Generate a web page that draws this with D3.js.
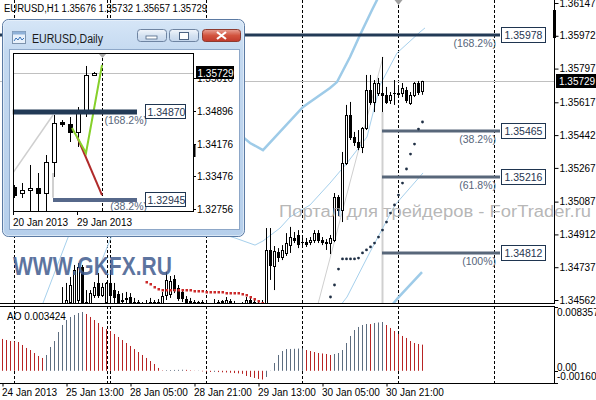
<!DOCTYPE html>
<html><head><meta charset="utf-8">
<script src="https://cdn.jsdelivr.net/npm/d3@7"></script>
<style>
body{margin:0;background:#fff}
svg{display:block}
text{font-family:"Liberation Sans",Arial,sans-serif}
</style></head>
<body><svg id="c" width="596" height="400"></svg>
<script>
// ---------------- DATA (EURUSD H1) ----------------
const openH1 = [1.3362,1.3366,1.3364,1.3360,1.3369,1.3375,1.3372,1.3370,1.3380,1.3389,1.3394,1.3390,1.3408,1.3420,1.3432,1.3440,
1.34535,1.34551,1.34546,1.34562,1.34738,1.34551,1.34546,1.34589,1.34653,1.34589,1.34551,1.34653,1.34615,1.34594,1.34562,1.34567,1.34578,1.34551,1.34551,1.34535,1.34530,1.34551,1.34546,1.34551,1.34535,1.34589,1.34594,1.34674,1.34626,1.34605,1.34567,1.34557,1.34551,1.34546,1.34551,1.34535,1.34530,1.34541,1.34546,1.34551,1.34546,1.34557,1.34546,1.34535,1.34530,1.34541,1.34562,1.34551,1.34541,1.34541,
1.34509,1.34829,1.34743,1.34818,1.34791,1.34813,1.34855,1.34893,1.34909,1.34871,1.34871,1.34871,1.34882,1.34919,1.34882,1.34871,1.34866,1.34882,1.35112,1.35042,1.35293,1.35549,1.35432,1.35405,1.35378,1.35480,1.35683,1.35619,1.35667,1.35667,1.35656,1.35629,1.35667,1.35667,1.35667,1.35683,1.35613,1.35656,1.35720,1.35676];
const highH1 = [1.3370,1.3372,1.3368,1.3371,1.3378,1.3380,1.3376,1.3382,1.3392,1.3398,1.3402,1.3412,1.3425,1.3436,1.3446,1.34631,
1.34653,1.34685,1.34749,1.34759,1.34749,1.34615,1.34615,1.34658,1.34706,1.34653,1.34658,1.34706,1.34653,1.34610,1.34599,1.34605,1.34599,1.34573,1.34562,1.34551,1.34562,1.34573,1.34562,1.34567,1.34605,1.34711,1.34690,1.34695,1.34642,1.34615,1.34583,1.34573,1.34562,1.34557,1.34562,1.34551,1.34546,1.34567,1.34562,1.34562,1.34578,1.34567,1.34557,1.34546,1.34551,1.34578,1.34578,1.34562,1.34557,1.34562,
1.34946,1.34946,1.34850,1.34839,1.34855,1.34919,1.34952,1.34925,1.34935,1.34893,1.34893,1.34898,1.34935,1.34935,1.34898,1.34887,1.34909,1.35133,1.35122,1.35352,1.35603,1.35619,1.35459,1.35469,1.35485,1.35763,1.35763,1.35736,1.35747,1.35859,1.35699,1.35672,1.35736,1.35693,1.35720,1.35699,1.35672,1.35725,1.35731,1.35732];
const lowH1 = [1.3355,1.3360,1.3356,1.3358,1.3365,1.3368,1.3364,1.3367,1.3376,1.3384,1.3386,1.3388,1.3402,1.3415,1.3426,1.3435,
1.34482,1.34530,1.34509,1.34541,1.34530,1.34498,1.34530,1.34573,1.34573,1.34578,1.34541,1.34562,1.34546,1.34530,1.34530,1.34541,1.34535,1.34525,1.34519,1.34509,1.34514,1.34530,1.34525,1.34514,1.34519,1.34562,1.34573,1.34599,1.34557,1.34551,1.34535,1.34530,1.34525,1.34530,1.34519,1.34509,1.34509,1.34525,1.34530,1.34535,1.34535,1.34535,1.34519,1.34509,1.34514,1.34530,1.34535,1.34519,1.34525,1.34519,
1.34498,1.34669,1.34615,1.34765,1.34775,1.34797,1.34813,1.34866,1.34839,1.34850,1.34845,1.34855,1.34866,1.34866,1.34855,1.34829,1.34807,1.34871,1.35010,1.34978,1.35282,1.35416,1.35384,1.35362,1.35346,1.35469,1.35603,1.35565,1.35651,1.35565,1.35608,1.35608,1.35603,1.35651,1.35645,1.35613,1.35603,1.35645,1.35656,1.35657];
const closeH1 = [1.3366,1.3364,1.3360,1.3369,1.3375,1.3372,1.3370,1.3380,1.3389,1.3394,1.3390,1.3408,1.3420,1.3432,1.3440,1.34535,
1.34562,1.34642,1.34722,1.34738,1.34546,1.34530,1.34599,1.34631,1.34589,1.34631,1.34653,1.34589,1.34578,1.34551,1.34557,1.34573,1.34551,1.34546,1.34541,1.34530,1.34546,1.34549,1.34551,1.34535,1.34583,1.34669,1.34663,1.34615,1.34573,1.34573,1.34551,1.34551,1.34546,1.34551,1.34541,1.34530,1.34541,1.34546,1.34551,1.34557,1.34562,1.34551,1.34535,1.34530,1.34535,1.34562,1.34551,1.34541,1.34546,1.34546,
1.34829,1.34749,1.34823,1.34791,1.34829,1.34866,1.34898,1.34882,1.34861,1.34869,1.34861,1.34882,1.34919,1.34882,1.34871,1.34866,1.34893,1.35112,1.35042,1.35293,1.35549,1.35432,1.35405,1.35378,1.35480,1.35683,1.35619,1.35720,1.35720,1.35656,1.35619,1.35656,1.35665,1.35664,1.35693,1.35629,1.35656,1.35720,1.35672,1.35729];

// Awesome Oscillator values (one per bar)
const aoValues = [0.00417,0.00403,0.00390,0.00384,0.00377,0.00338,0.00299,0.00272,0.00233,0.00194,0.00168,0.00207,0.00312,0.00390,0.00508,0.00600,
0.00665,0.00705,0.00731,0.00757,0.00770,0.00744,0.00705,0.00665,0.00626,0.00574,0.00548,0.00521,0.00482,0.00443,0.00403,0.00364,0.00325,0.00285,0.00246,0.00207,0.00168,0.00128,0.00089,0.00037,
0.00005,0.00008,0.00010,0.00011,0.00012,0.00014,0.00012,0.00006,0.00002,0.00003,-0.00008,-0.00012,-0.00015,-0.00014,-0.00017,-0.00020,-0.00022,-0.00026,-0.00030,-0.00034,-0.00040,-0.00068,-0.00081,-0.00094,-0.00107,-0.00114,
-0.00081,-0.00003,0.00102,0.00207,0.00259,0.00285,0.00286,0.00288,0.00291,0.00292,0.00272,0.00259,0.00246,0.00233,0.00227,0.00220,0.00207,0.00220,0.00233,0.00272,0.00364,0.00456,0.00534,0.00574,0.00600,0.00613,0.00612,0.00626,0.00633,0.00639,
0.00600,0.00561,0.00521,0.00482,0.00456,0.00430,0.00390,0.00364,0.00351,0.003424];

// Parabolic SAR points [bar, price]
const sarDown = [[36,1.34658],[37,1.34647],[38,1.34631],[39,1.34621],[40,1.34615],[41,1.34615],[42,1.34615],[43,1.34615],[44,1.34615],[45,1.34615],[46,1.34613],[47,1.34613],[48,1.34610],[49,1.34610],[50,1.34610],[51,1.34607],[52,1.34607],[53,1.34605],[54,1.34605],[55,1.34605],[56,1.34602],[57,1.34599],[58,1.34599],[59,1.34597],[60,1.34594],[61,1.34589],[62,1.34578],[63,1.34567],[64,1.34557],[65,1.34546]];
const sarUp = [[82,1.34578],[83,1.34642],[84,1.34727],[85,1.34781],[86,1.34781],[87,1.34781],[88,1.34781],[89,1.34786],[90,1.34813],[91,1.34829],[92,1.34845],[93,1.34866],[94,1.34898],[95,1.34935],[96,1.34978],[97,1.35026],[98,1.35069],[99,1.35122],[100,1.35186],[101,1.35261],[102,1.35341],[103,1.35394],[104,1.35474],[105,1.35512]];

// Band / envelope lines [bar, price]
const envUpper = [[60.5,1.35427],[62,1.35400],[65.25,1.35362],[75.25,1.35592],[82,1.35693],[83.75,1.35725],[87,1.35859],[89.5,1.35976],[92.5,1.36110],[95,1.36216]];
const envLower = [[96.5,1.34509],[99,1.34573],[105,1.34711]];
const bandA = [[10.25,1.34546],[16.25,1.34882],[18.25,1.34989]];
const bandB = [[23.5,1.34695],[27,1.34882],[28.25,1.34946]];
const bbUpper = [[56.5,1.34904],[58.25,1.34893],[63.25,1.34855],[65.25,1.34877],[69.5,1.34946],[72,1.35005],[77,1.35069],[82,1.35186],[86.25,1.35293],[91.25,1.35432],[94.5,1.35709],[98.75,1.35880],[104.5,1.35992],[105.75,1.36014]];
const bbLower = [[84.5,1.34530],[86.25,1.34578],[92,1.34818],[98.25,1.35069],[105.25,1.35240]];
const fibTrend = [[79,1.34541],[95.25,1.35859]];

// Fibonacci levels
const fibPrices = [1.35978,1.35465,1.35216,1.34812];
const fibNames = ["(168.2%)","(38.2%)","(61.8%)","(100%)"];
const fibStart = [-1,95,95,95];
const fibEnd = 124.5;

// axes
const priceTicks = [1.36147,1.35972,1.35797,1.35617,1.35442,1.35267,1.35087,1.34912,1.34737,1.34562];
const dateLabels = ["24 Jan 2013","25 Jan 13:00","28 Jan 05:00","28 Jan 21:00","29 Jan 13:00","30 Jan 05:00","30 Jan 21:00"];
const dateBars = [0,16,32,48,64,80,96];
const separatorBars = [3,26.25,27,51,75,99,123];
const lastPrice = 1.35729;
const aoTickLabels = ["0.008357","0.00","-0.00160"];
const aoTickValues = [0.008357,0,-0.0016];

// Daily inset data
const openD  = [1.33236,1.33105,1.33171,1.33214,1.33105,1.33782,1.34656,1.34612,1.34437,1.34874,1.35676];
const highD  = [1.33280,1.33324,1.33717,1.33542,1.33935,1.34809,1.34699,1.34765,1.34983,1.35879,1.35748];
const lowD   = [1.32996,1.32996,1.32515,1.32668,1.32668,1.33455,1.34547,1.34219,1.34110,1.34765,1.35660];
const closeD = [1.33061,1.33171,1.33214,1.33105,1.33782,1.34634,1.34612,1.34437,1.34874,1.35682,1.35729];
const dTicks = [1.35616,1.34896,1.34176,1.33476,1.32756];
const dDates = ["20 Jan 2013","29 Jan 2013"];
const dDateBars = [0,8];
const dFibPrices = [1.34870,1.32945];
const dFibNames = ["(168.2%)","(38.2%)"];
const dFibStart = [-0.15,4.875];
const dGreen = [[7.25,1.34525],[9,1.33979],[11,1.35901]];
const dRed = [[7.9,1.34328],[11,1.33061]];
const dGreyDiag = [[-0.15,1.33542],[4.875,1.34809]];

// ---------------- DRAW ----------------
const svg = d3.select("#c");
svg.append("rect").attr("width",596).attr("height",400).attr("fill","#fff");
const defs = svg.append("defs");
defs.append("clipPath").attr("id","cm").append("rect").attr("x",0).attr("y",0).attr("width",554).attr("height",304);
defs.append("clipPath").attr("id","ca").append("rect").attr("x",0).attr("y",306).attr("width",554).attr("height",77);
defs.append("clipPath").attr("id","ci").append("rect").attr("x",13.5).attr("y",53.5).attr("width",180).attr("height",158);

const x = d3.scaleLinear().domain([0,105]).range([2,422]);
const y = d3.scaleLinear().domain([1.34562,1.36147]).range([300,3]);
const yAO = d3.scaleLinear().domain([-0.0016,0.008357]).range([383,307]);

const main = svg.append("g").attr("clip-path","url(#cm)");
const aoG = svg.append("g").attr("clip-path","url(#ca)");

// separators
separatorBars.forEach(b=>{
  const px = Math.round(x(b))+0.5;
  main.append("line").attr("x1",px).attr("x2",px).attr("y1",0).attr("y2",304).attr("stroke","#000").attr("stroke-dasharray","3,2");
  aoG.append("line").attr("x1",px).attr("x2",px).attr("y1",306).attr("y2",384).attr("stroke","#000").attr("stroke-dasharray","3,2");
});
// shift marker
const sx = Math.round(x(99))+0.5;
main.append("path").attr("d",`M${sx-4},0L${sx+4},0L${sx},5Z`).attr("fill","#a0a0a0");

// last price line
main.append("line").attr("x1",0).attr("x2",554).attr("y1",Math.round(y(lastPrice))+0.5).attr("y2",Math.round(y(lastPrice))+0.5).attr("stroke","#c0c0c0");

// fib trend + vertical
const ln = d3.line().x(d=>x(d[0])).y(d=>y(d[1]));
main.append("path").attr("d",ln(fibTrend)).attr("fill","none").attr("stroke","#cfcfcf").attr("stroke-width",1);
main.append("line").attr("x1",Math.round(x(95))+0.5).attr("x2",Math.round(x(95))+0.5).attr("y1",y(1.35565)).attr("y2",304).attr("stroke","#d0d0d0").attr("stroke-width",2);

// bands
[[envUpper,2.5,"#9ecbe8"],[envLower,2.5,"#9ecbe8"],[bandA,1,"#a6d0ec"],[bandB,1,"#a6d0ec"],[bbUpper,1,"#a6d0ec"],[bbLower,1,"#a6d0ec"]].forEach(([d,w,c])=>{
  main.append("path").attr("d",ln(d)).attr("fill","none").attr("stroke",c).attr("stroke-width",w);
});

// fib levels
fibPrices.forEach((p,i)=>{
  const ly = Math.round(y(p));
  main.append("line").attr("x1",x(fibStart[i])).attr("x2",x(fibEnd)).attr("y1",ly).attr("y2",ly)
    .attr("stroke", i===0?"#223a56":"#58677a").attr("stroke-width",3);
  main.append("text").attr("x",x(fibEnd)-4).attr("y",ly+12).attr("text-anchor","end").attr("font-size","10.5px").attr("fill","#56657a").text(fibNames[i]);
  const bx = Math.round(x(fibEnd))+1.5;
  main.append("rect").attr("x",bx).attr("y",ly-7.5).attr("width",44).attr("height",15).attr("fill","#fff").attr("stroke","#1f3550");
  main.append("text").attr("x",bx+3).attr("y",ly+4).attr("font-size","10.5px").attr("fill","#1f3550").text(p.toFixed(5));
});

// candles
function candles(g, xs, ys, O, Hh, L, C, hw){
  O.forEach((o,i)=>{
    const cx = Math.round(xs(i));
    const h=Hh[i], l=L[i], c=C[i];
    g.append("line").attr("x1",cx+0.5).attr("x2",cx+0.5).attr("y1",ys(h)).attr("y2",ys(l)).attr("stroke","#000");
    const top = Math.round(ys(Math.max(o,c))), bot = Math.round(ys(Math.min(o,c)));
    if (bot-top<1){
      g.append("line").attr("x1",cx-hw).attr("x2",cx+hw+1).attr("y1",top+0.5).attr("y2",top+0.5).attr("stroke","#000");
    } else if (c>=o){
      g.append("rect").attr("x",cx-hw+0.5).attr("y",top+0.5).attr("width",2*hw).attr("height",bot-top).attr("fill","#fff").attr("stroke","#000");
    } else {
      g.append("rect").attr("x",cx-hw).attr("y",top).attr("width",2*hw+1).attr("height",bot-top+1).attr("fill","#000");
    }
  });
}
candles(main, x, y, openH1, highH1, lowH1, closeH1, 1);

// SAR
sarDown.forEach(d=>main.append("rect").attr("x",Math.round(x(d[0]))-0.5).attr("y",Math.round(y(d[1]))-1).attr("width",2.5).attr("height",2.5).attr("fill","#cc2a2a"));
sarUp.forEach(d=>main.append("circle").attr("cx",Math.round(x(d[0]))+0.5).attr("cy",y(d[1])).attr("r",1.4).attr("fill","#1f2f44"));

// panel borders
svg.append("line").attr("x1",554.5).attr("x2",554.5).attr("y1",0).attr("y2",304).attr("stroke","#000");
svg.append("line").attr("x1",0).attr("x2",555).attr("y1",303.5).attr("y2",303.5).attr("stroke","#000");
svg.append("rect").attr("x",-1).attr("y",306.5).attr("width",555.5).attr("height",77).attr("fill","none").attr("stroke","#000");
svg.append("rect").attr("x",553).attr("y",10).attr("width",3).attr("height",28).attr("fill","#000");

// price axis
const pa = svg.append("g").attr("transform","translate(554.5,0)")
  .call(d3.axisRight(y).tickValues(priceTicks).tickSize(4).tickPadding(1).tickFormat(d=>d.toFixed(5)));
pa.select(".domain").remove();
pa.selectAll("text").attr("font-family","Liberation Sans, Arial").attr("font-size","10px").attr("fill","#000");
pa.selectAll("line").attr("stroke","#000");
const ly0 = Math.round(y(lastPrice));
svg.append("rect").attr("x",556).attr("y",ly0-7).attr("width",40).attr("height",14).attr("fill","#000");
svg.append("text").attr("x",559).attr("y",ly0+4).attr("font-size","10px").attr("fill","#fff").text(lastPrice.toFixed(5));

// watermarks (drawn over the chart, the site text runs onto the price scale)
svg.append("text").attr("x",279).attr("y",217).attr("font-size","16px").attr("fill","#a4a4a4").attr("fill-opacity",0.8)
  .attr("textLength",312).attr("lengthAdjust","spacingAndGlyphs").text("Портал для трейдеров - ForTrader.ru");
main.append("text").attr("x",13).attr("y",275).attr("font-size","25px").attr("font-weight","bold").attr("fill","#3f5b8e").attr("fill-opacity",0.85)
  .attr("textLength",159).attr("lengthAdjust","spacingAndGlyphs").text("WWW.GKFX.RU");

// AO
aoValues.forEach((v,i)=>{
  const up = i>0 && v>aoValues[i-1];
  const px = Math.round(x(i))+0.5;
  aoG.append("line").attr("x1",px).attr("x2",px).attr("y1",yAO(0)).attr("y2",yAO(v)).attr("stroke",up?"#5d6d80":"#b82424");
});
svg.append("text").attr("x",7).attr("y",320).attr("font-size","10px").attr("fill","#000").text("AO "+aoValues[aoValues.length-1]);
const aoDy = [9,0,-3];
aoTickValues.forEach((v,i)=>{
  svg.append("text").attr("x",557).attr("y",yAO(v)+aoDy[i]).attr("font-size","10px").attr("fill","#000").text(aoTickLabels[i]);
  svg.append("line").attr("x1",554).attr("x2",558).attr("y1",Math.round(yAO(v))+0.5).attr("y2",Math.round(yAO(v))+0.5).attr("stroke","#000");
});

// date axis
const da = svg.append("g").attr("transform","translate(0.5,383.5)")
  .call(d3.axisBottom(x).tickValues(dateBars).tickSize(3).tickPadding(2).tickFormat((d,i)=>dateLabels[i]));
da.select(".domain").remove();
da.selectAll("text").attr("text-anchor","start").attr("dx","-1").attr("font-family","Liberation Sans, Arial").attr("font-size","10px").attr("fill","#000");
da.selectAll("line").attr("stroke","#000");

// header
svg.append("text").attr("x",4).attr("y",12).attr("font-size","10px").attr("fill","#000").attr("textLength",203).attr("lengthAdjust","spacingAndGlyphs")
  .text("EURUSD,H1  1.35676 1.35732 1.35657 1.35729");

// ---------------- INSET WINDOW ----------------
const win = svg.append("g");
const gr = defs.append("linearGradient").attr("id","fr").attr("x1",0).attr("y1",0).attr("x2",0).attr("y2",1);
gr.append("stop").attr("offset","0").attr("stop-color","#d6e6f7");
gr.append("stop").attr("offset","0.15").attr("stop-color","#c4d9f0");
gr.append("stop").attr("offset","1").attr("stop-color","#b6cfeb");
win.append("rect").attr("x",2.5).attr("y",19.5).attr("width",242).attr("height",217).attr("rx",6).attr("fill","url(#fr)").attr("stroke","#5b7aa3");
win.append("rect").attr("x",3.5).attr("y",20.5).attr("width",240).attr("height",215).attr("rx",5).attr("fill","none").attr("stroke","#eaf2fb").attr("stroke-opacity",0.7);
win.append("rect").attr("x",9.5).attr("y",49.5).attr("width",230).attr("height",180).attr("fill","#fff").attr("stroke","#8da7c8");
// icon
win.append("rect").attr("x",12.5).attr("y",31.5).attr("width",13).attr("height",12).attr("fill","#e8f1fb").attr("stroke","#7d93ad");
win.append("rect").attr("x",12.5).attr("y",31.5).attr("width",13).attr("height",3).attr("fill","#8fb1d8");
win.append("path").attr("d","M14,41 L16,38 L18,40 L20,37 L22,40 L24,38").attr("fill","none").attr("stroke","#3b74b8").attr("stroke-width",1);
win.append("text").attr("x",32).attr("y",43).attr("font-family","Noto Sans, sans-serif").attr("font-size","12px").attr("fill","#1a1a1a").attr("textLength",71).attr("lengthAdjust","spacingAndGlyphs").text("EURUSD,Daily");
// buttons
const bg = defs.append("linearGradient").attr("id","bt").attr("x1",0).attr("y1",0).attr("x2",0).attr("y2",1);
bg.append("stop").attr("offset","0").attr("stop-color","#f2f6fb");
bg.append("stop").attr("offset","0.5").attr("stop-color","#d5e2f1");
bg.append("stop").attr("offset","1").attr("stop-color","#c4d6ec");
const rg = defs.append("linearGradient").attr("id","rb").attr("x1",0).attr("y1",0).attr("x2",0).attr("y2",1);
rg.append("stop").attr("offset","0").attr("stop-color","#e8a195");
rg.append("stop").attr("offset","0.5").attr("stop-color","#d2543f");
rg.append("stop").attr("offset","1").attr("stop-color","#c0392b");
win.append("rect").attr("x",137.5).attr("y",29.5).attr("width",29).attr("height",12).attr("rx",3).attr("fill","url(#bt)").attr("stroke","#6e84a2");
win.append("rect").attr("x",146).attr("y",36).attr("width",11).attr("height",3).attr("fill","#fff").attr("stroke","#4d6483").attr("stroke-width",0.8);
win.append("rect").attr("x",169.5).attr("y",29.5).attr("width",29).attr("height",12).attr("rx",3).attr("fill","url(#bt)").attr("stroke","#6e84a2");
win.append("rect").attr("x",179.5).attr("y",32.5).attr("width",9).attr("height",7).attr("fill","#fff").attr("stroke","#4d6483");
win.append("rect").attr("x",202.5).attr("y",29.5).attr("width",38).attr("height",12).attr("rx",3).attr("fill","url(#rb)").attr("stroke","#8e3a30");
win.append("path").attr("d","M217,32 L226,39 M226,32 L217,39").attr("stroke","#fff").attr("stroke-width",2.2);

// inset chart
const xi = d3.scaleLinear().domain([0,10]).range([14,94]);
const yi = d3.scaleLinear().domain([1.32756,1.34896]).range([209,111]);
const ig = win.append("g").attr("clip-path","url(#ci)");
ig.append("line").attr("x1",13).attr("x2",194).attr("y1",Math.round(yi(lastPrice))+0.5).attr("y2",Math.round(yi(lastPrice))+0.5).attr("stroke","#c0c0c0");
const lni = d3.line().x(d=>xi(d[0])).y(d=>yi(d[1]));
ig.append("path").attr("d",lni(dGreyDiag)).attr("fill","none").attr("stroke","#cfcfcf").attr("stroke-width",1.5);
ig.append("line").attr("x1",xi(4.875)).attr("x2",xi(4.875)).attr("y1",yi(1.33542)).attr("y2",yi(1.3300)).attr("stroke","#d0d0d0").attr("stroke-width",2);
ig.append("line").attr("x1",Math.round(xi(11))+0.5).attr("x2",Math.round(xi(11))+0.5).attr("y1",53).attr("y2",212).attr("stroke","#000").attr("stroke-dasharray","3,2");
ig.append("path").attr("d",`M${xi(11)-4},53L${xi(11)+5},53L${xi(11)+0.5},58Z`).attr("fill","#a8a8a8");
candles(ig, xi, yi, openD, highD, lowD, closeD, 2);
ig.append("path").attr("d",lni(dRed)).attr("fill","none").attr("stroke","#b02a2a").attr("stroke-width",2);
ig.append("path").attr("d",lni(dGreen)).attr("fill","none").attr("stroke","#86d02a").attr("stroke-width",2);
// inset fib levels
dFibPrices.forEach((p,i)=>{
  const ly = Math.round(yi(p));
  win.append("line").attr("x1",xi(dFibStart[i])).attr("x2",137).attr("y1",ly).attr("y2",ly).attr("stroke",i===0?"#223a56":"#56688a").attr("stroke-width",i===0?5:4);
  win.append("text").attr("x",147).attr("y",ly+(i===0?12:10)).attr("text-anchor","end").attr("font-size","10.5px").attr("fill","#56657a").text(dFibNames[i]);
  win.append("rect").attr("x",145.5).attr("y",ly-7.5).attr("width",40).attr("height",14).attr("fill","#fff").attr("stroke","#1f3550");
  win.append("text").attr("x",147.5).attr("y",ly+4).attr("font-size","10.5px").attr("fill","#1f3550").text(p.toFixed(5));
});
win.append("rect").attr("x",13.5).attr("y",53.5).attr("width",180).attr("height",158).attr("fill","none").attr("stroke","#000");
// inset axes
dTicks.forEach(t=>{
  const ty = Math.round(yi(t));
  win.append("line").attr("x1",193).attr("x2",196).attr("y1",ty+0.5).attr("y2",ty+0.5).attr("stroke","#000");
  win.append("text").attr("x",197).attr("y",ty+4).attr("font-size","10px").attr("fill","#000").text(t.toFixed(5));
});
win.append("rect").attr("x",193).attr("y",145).attr("width",2.5).attr("height",12).attr("fill","#000");
const liy = Math.round(yi(lastPrice));
win.append("rect").attr("x",196).attr("y",liy-7).attr("width",38).attr("height",13).attr("fill","#000");
win.append("text").attr("x",197.5).attr("y",liy+4).attr("font-size","10px").attr("fill","#fff").text(lastPrice.toFixed(5));
dDateBars.forEach((b,i)=>{
  const tx = Math.round(xi(b))-1;
  win.append("line").attr("x1",tx+0.5).attr("x2",tx+0.5).attr("y1",212).attr("y2",215).attr("stroke","#000");
  win.append("text").attr("x",tx).attr("y",226).attr("font-size","10px").attr("fill","#000").text(dDates[i]);
});
</script></body></html>
